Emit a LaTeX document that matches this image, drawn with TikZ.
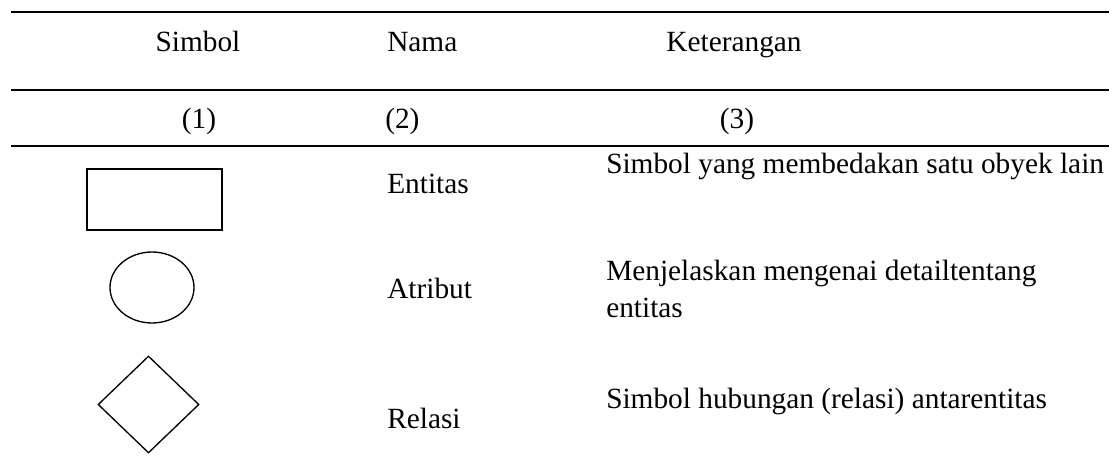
\documentclass[tikz,border=0pt]{standalone}
\usepackage{fontspec}
\setmainfont{Liberation Serif}
\usetikzlibrary{shapes.geometric}
\begin{document}
\begin{tikzpicture}[x=0.75pt,y=-0.75pt,
  rule/.style={line width=1.5pt},
  shp/.style={draw, line width=1pt, inner sep=0pt},
  txt/.style={inner sep=0pt, font=\fontsize{22}{27}\selectfont},
  txtl/.style={txt, anchor=base west},
  txtc/.style={txt, anchor=base}]
\useasboundingbox (0,0) rectangle (1116,470);
% rules
\coordinate (l1) at (11,12);   \coordinate (r1) at (1109,12);
\coordinate (l2) at (11,90);   \coordinate (r2) at (1109,90);
\coordinate (l3) at (11,146);  \coordinate (r3) at (1109,146);
\draw[rule] (l1) -- (r1);
\draw[rule] (l2) -- (r2);
\draw[rule] (l3) -- (r3);
% header
\node[txtc] (h1) at (198,52) {Simbol};
\node[txtl] (h2) at (387,52) {Nama};
\node[txtc] (h3) at (734,52) {Keterangan};
\node[txtc] (n1) at (199,129) {(1)};
\node[txtl] (n2) at (385,129) {(2)};
\node[txtc] (n3) at (737,129) {(3)};
% symbols
\node[shp, rectangle, minimum width=135*0.75pt, minimum height=61*0.75pt] (ent) at (154.5,199.5) {};
\node[shp, ellipse, minimum width=84*0.75pt, minimum height=71*0.75pt] (atr) at (152,287.5) {};
\node[shp, diamond, minimum width=101*0.75pt, minimum height=97*0.75pt] (rel) at (148.5,404.5) {};
% names
\node[txtl] (t1) at (387,194) {Entitas};
\node[txtl] (t2) at (387,298) {Atribut};
\node[txtl] (t3) at (387,428) {Relasi};
% descriptions
\node[txtl] (d1) at (606,174) {Simbol yang membedakan satu obyek lain};
\node[txtl] (d2a) at (606,280) {Menjelaskan mengenai detailtentang};
\node[txtl] (d2b) at (606,317) {entitas};
\node[txtl] (d3) at (606,408) {Simbol hubungan (relasi) antarentitas};
\end{tikzpicture}
\end{document}
